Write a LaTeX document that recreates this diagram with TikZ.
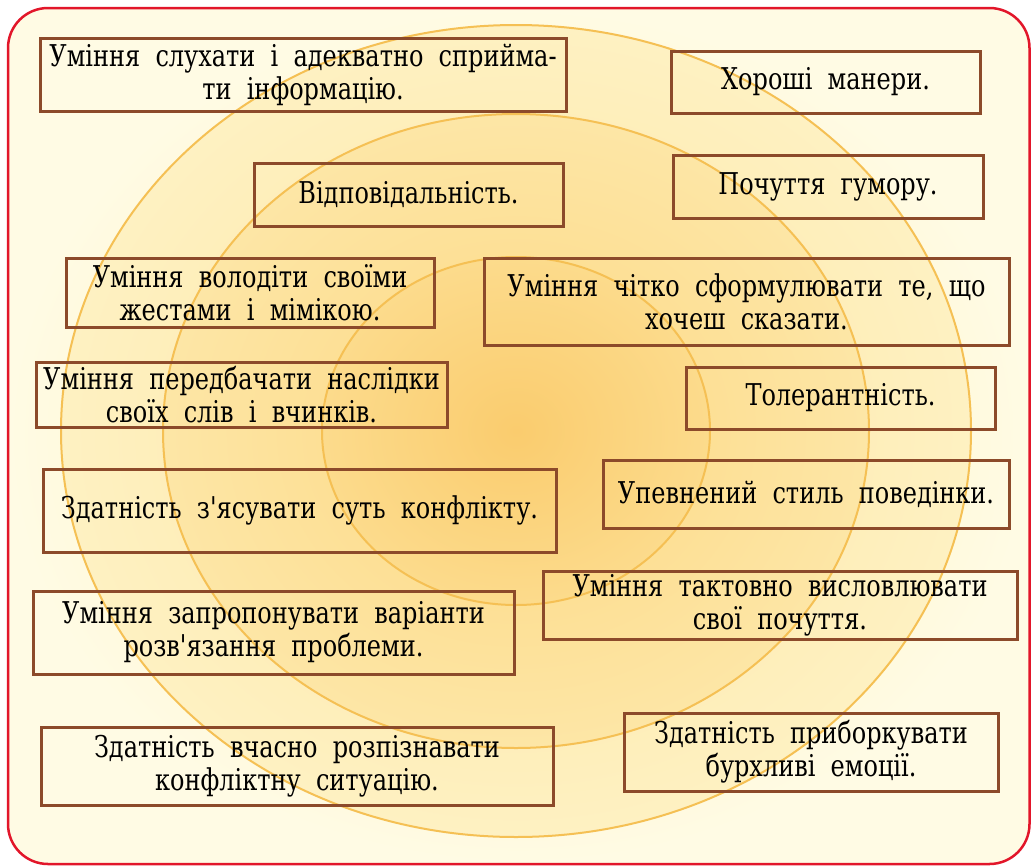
\documentclass[tikz,border=0pt]{standalone}
\usepackage{fontspec}
\setmainfont{DejaVu Serif}[FakeStretch=0.8,WordSpace=2,Ligatures=TeXOff]
\definecolor{framered}{RGB}{226,22,42}
\definecolor{boxbrown}{RGB}{140,74,42}
\definecolor{ringline}{RGB}{245,192,84}
\definecolor{palefield}{RGB}{255,251,228}
\definecolor{warmfield}{RGB}{254,238,182}
\definecolor{outerin}{RGB}{253,229,160}
\definecolor{outerout}{RGB}{254,241,194}
\definecolor{middlein}{RGB}{252,216,130}
\definecolor{middleout}{RGB}{253,230,166}
\definecolor{innerin}{RGB}{250,204,110}
\definecolor{innerout}{RGB}{252,219,140}
\def\outerring{(516,431) ellipse (455 and 406)}
\def\middlering{(516,431) ellipse (353 and 317)}
\def\innerring{(516,431) ellipse (194 and 174)}
\tikzset{
  skill/.style={draw=boxbrown, line width=3, inner sep=0, align=center,
    font=\fontsize{30}{33}\selectfont},
  ring/.style={draw=ringline, line width=2}
}
\begin{document}
\begin{tikzpicture}[x=1pt,y=-1pt]
    \useasboundingbox (0,0) rectangle (1031,865);
    % background and rings
    \shade[inner color=warmfield, outer color=palefield, rounded corners=40]
        (8,8) rectangle (1029.5,864);
    \shade[inner color=outerin, outer color=outerout] \outerring;
    \shade[inner color=middlein, outer color=middleout] \middlering;
    \shade[inner color=innerin, outer color=innerout] \innerring;
    \draw[ring] \outerring;
    \draw[ring] \middlering;
    \draw[ring] \innerring;
    \draw[framered, line width=2.5, rounded corners=40] (8,8) rectangle (1029.5,864);
    % left column
    \node[skill, minimum width=526, minimum height=73] (listen) at (303,74.5)
        {Уміння слухати і адекватно сприйма-\\ти інформацію.};
    \node[skill, minimum width=309, minimum height=63] (duty) at (408.5,194.5)
        {Відповідальність.};
    \node[skill, minimum width=368, minimum height=69] (gestures) at (250,292.5)
        {Уміння володіти своїми\\жестами і мімікою.};
    \node[skill, minimum width=411, minimum height=65] (foresee) at (241.5,394.5)
        {Уміння передбачати наслідки\\своїх слів і вчинків.};
    \node[skill, minimum width=513, minimum height=83] (essence) at (299.5,510.5)
        {Здатність з'ясувати суть конфлікту.};
    \node[skill, minimum width=481, minimum height=83] (propose) at (273.5,632.5)
        {Уміння запропонувати варіанти\\розв'язання проблеми.};
    \node[skill, minimum width=512, minimum height=78] (detect) at (297,766)
        {Здатність вчасно розпізнавати\\конфліктну ситуацію.};
    % right column
    \node[skill, minimum width=309, minimum height=62] (manners) at (825.5,82)
        {Хороші манери.};
    \node[skill, minimum width=310, minimum height=63] (humour) at (828,186.5)
        {Почуття гумору.};
    \node[skill, minimum width=525, minimum height=87] (clearly) at (746.5,301.5)
        {Уміння чітко сформулювати те, що\\хочеш сказати.};
    \node[skill, minimum width=309, minimum height=62] (tolerance) at (840.5,398)
        {Толерантність.};
    \node[skill, minimum width=406, minimum height=68] (confident) at (806,494)
        {Упевнений стиль поведінки.};
    \node[skill, minimum width=474, minimum height=68] (tact) at (780,605)
        {Уміння тактовно висловлювати\\свої почуття.};
    \node[skill, minimum width=374, minimum height=78] (restrain) at (811,752)
        {Здатність приборкувати\\бурхливі емоції.};
\end{tikzpicture}
\end{document}
